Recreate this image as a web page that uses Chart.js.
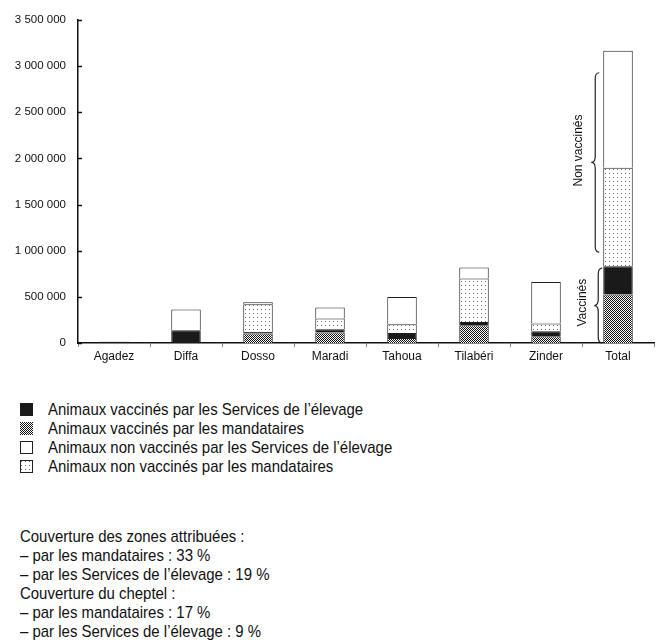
<!DOCTYPE html>
<html>
<head>
<meta charset="utf-8">
<script src="https://cdn.jsdelivr.net/npm/chart.js@4.4.0/dist/chart.umd.min.js"></script>
<style>
  body { margin: 0; background: #fff; color: #111; font-family: "Liberation Sans", Arial, sans-serif; }
  #wrap { position: relative; width: 657px; height: 643px; }
  #chartBox { position: absolute; left: 0; top: 0; width: 657px; height: 372px; }
  .legend { position: absolute; left: 20px; top: 400px; font-size: 17px; line-height: 19px; }
  .legend div { display: flex; align-items: center; height: 19px; white-space: nowrap; }
  .legend canvas { width: 13px; height: 13px; margin-right: 15px; }
  .legend span { display: inline-block; transform: scaleX(0.88); transform-origin: left center; }
  .notes { position: absolute; left: 20px; top: 527px; font-size: 17px; line-height: 19px; white-space: nowrap;
           transform: scaleX(0.88); transform-origin: left top; }
</style>
</head>
<body>
<div id="wrap">
  <div id="chartBox"><canvas id="chart"></canvas></div>
  <div class="legend" id="legend"></div>
  <div class="notes">
    Couverture des zones attribuées :<br>
    – par les mandataires : 33 %<br>
    – par les Services de l’élevage : 19 %<br>
    Couverture du cheptel :<br>
    – par les mandataires : 17 %<br>
    – par les Services de l’élevage : 9 %
  </div>
</div>
<script>
const regions = ["Agadez", "Diffa", "Dosso", "Maradi", "Tahoua", "Tilabéri", "Zinder", "Total"];

// values (number of animals)
const vaccMandataires = [0, 0, 102000, 113000, 54000, 192000, 73000, 525000];
const vaccServices = [10000, 138000, 18000, 36000, 54000, 36000, 54000, 307000];
const nonVaccMandataires = [0, 0, 300000, 116000, 94000, 471000, 84000, 1066000];
const nonVaccServices = [5000, 224000, 22000, 119000, 296000, 119000, 451000, 1269000];

const yTicks = [0, 500000, 1000000, 1500000, 2000000, 2500000, 3000000, 3500000];

const seriesLabels = [
  "Animaux vaccinés par les Services de l’élevage",
  "Animaux vaccinés par les mandataires",
  "Animaux non vaccinés par les Services de l’élevage",
  "Animaux non vaccinés par les mandataires",
];

// fill patterns
function makePattern(kind) {
  const c = document.createElement("canvas");
  const g = c.getContext("2d");
  if (kind === "checker") {
    c.width = 2; c.height = 2;
    g.fillStyle = "#fff"; g.fillRect(0, 0, 2, 2);
    g.fillStyle = "#111"; g.fillRect(0, 0, 1, 1); g.fillRect(1, 1, 1, 1);
  } else if (kind === "dots") {
    c.width = 4; c.height = 4;
    g.fillStyle = "#fff"; g.fillRect(0, 0, 4, 4);
    g.fillStyle = "#666"; g.fillRect(1, 1, 1, 1);
  }
  return g.createPattern(c, "repeat");
}
const checker = makePattern("checker");
const dots = makePattern("dots");

function fmt(v) {
  return String(v).replace(/\B(?=(\d{3})+(?!\d))/g, " ");
}

// small tick marks on the inner side of the y axis
const innerTicks = {
  id: "innerTicks",
  afterDraw(chart) {
    const y = chart.scales.y;
    const ctx = chart.ctx;
    ctx.save();
    ctx.strokeStyle = "#111";
    ctx.lineWidth = 1.5;
    y.ticks.forEach((t) => {
      const py = Math.round(y.getPixelForValue(t.value)) + 0.5;
      ctx.beginPath();
      ctx.moveTo(chart.chartArea.left, py);
      ctx.lineTo(chart.chartArea.left + 4, py);
      ctx.stroke();
    });
    ctx.restore();
  },
};

function brace(ctx, x, y1, y2, yMid) {
  const r = 6;
  ctx.beginPath();
  ctx.moveTo(x + 4, y1);
  ctx.quadraticCurveTo(x, y1, x, y1 + r);
  ctx.lineTo(x, yMid - r);
  ctx.quadraticCurveTo(x, yMid, x - 4, yMid);
  ctx.quadraticCurveTo(x, yMid, x, yMid + r);
  ctx.lineTo(x, y2 - r);
  ctx.quadraticCurveTo(x, y2, x + 4, y2);
  ctx.stroke();
}

// braces and labels next to the Total bar
const braces = {
  id: "braces",
  afterDatasetsDraw(chart) {
    const y = chart.scales.y;
    const ctx = chart.ctx;
    const last = regions.length - 1;
    const bar = chart.getDatasetMeta(0).data[last];
    const left = bar.x - bar.width / 2;
    const vacc = vaccMandataires[last] + vaccServices[last];
    const total = vacc + nonVaccMandataires[last] + nonVaccServices[last];

    ctx.save();
    ctx.strokeStyle = "#222";
    ctx.lineWidth = 1.2;
    ctx.fillStyle = "#111";
    ctx.font = "12px 'Liberation Sans', Arial, sans-serif";
    ctx.textAlign = "center";
    ctx.textBaseline = "middle";

    // vaccinated
    const v1 = y.getPixelForValue(vacc) + 2;
    const v2 = y.getPixelForValue(0);
    const vm = (v1 + v2) / 2;
    brace(ctx, left - 5, v1, v2, vm);
    ctx.save();
    ctx.translate(left - 21, vm - 3);
    ctx.rotate(-Math.PI / 2);
    ctx.fillText("Vaccinés", 0, 0);
    ctx.restore();

    // not vaccinated
    const n1 = y.getPixelForValue(total) + 22;
    const n2 = y.getPixelForValue(vacc) - 14;
    const nm = (n1 + n2) / 2;
    brace(ctx, left - 8, n1, n2, nm);
    ctx.save();
    ctx.translate(left - 25, nm - 12);
    ctx.rotate(-Math.PI / 2);
    ctx.fillText("Non vaccinés", 0, 0);
    ctx.restore();

    ctx.restore();
  },
};

const ctx = document.getElementById("chart").getContext("2d");

const chart = new Chart(ctx, {
  type: "bar",
  data: {
    labels: regions,
    datasets: [
      { label: seriesLabels[1], data: vaccMandataires, backgroundColor: checker },
      { label: seriesLabels[0], data: vaccServices, backgroundColor: "#1a1a1a" },
      { label: seriesLabels[3], data: nonVaccMandataires, backgroundColor: dots },
      { label: seriesLabels[2], data: nonVaccServices, backgroundColor: "#fff" },
    ].map((d) => ({
      ...d,
      borderColor: "#222",
      borderWidth: 1,
      barPercentage: 0.82,
      categoryPercentage: 0.5,
    })),
  },
  options: {
    responsive: true,
    maintainAspectRatio: false,
    animation: false,
    layout: { padding: { top: 20, right: 3, left: 0, bottom: 0 } },
    scales: {
      x: {
        stacked: true,
        grid: { display: true, drawOnChartArea: false, drawTicks: true, tickLength: 4, offset: true, color: "#888" },
        border: { display: true, color: "#111", width: 1.5 },
        ticks: { color: "#111", padding: 2, font: { family: "'Liberation Sans', Arial, sans-serif", size: 12 } },
        afterFit(scale) { scale.height = 29; },
      },
      y: {
        stacked: true,
        min: 0,
        max: 3500000,
        afterBuildTicks(scale) { scale.ticks = yTicks.map((v) => ({ value: v })); },
        grid: { display: false, drawTicks: false },
        border: { display: true, color: "#111", width: 1.5 },
        ticks: {
          color: "#111",
          padding: 12,
          font: { family: "'Liberation Sans', Arial, sans-serif", size: 11.5 },
          callback: (v) => fmt(v),
        },
        afterFit(scale) { scale.width = 78; },
      },
    },
    plugins: {
      legend: { display: false },
      tooltip: { enabled: false },
    },
  },
  plugins: [innerTicks, braces],
});

// legend below the chart, same order as the original
const legendEl = document.getElementById("legend");
const swatches = [
  { fill: "#1a1a1a", border: false },
  { fill: checker, border: false },
  { fill: "#fff", border: true },
  { fill: dots, border: true },
];
seriesLabels.forEach((text, i) => {
  const row = document.createElement("div");
  const sw = document.createElement("canvas");
  sw.width = 13; sw.height = 13;
  const g = sw.getContext("2d");
  g.fillStyle = swatches[i].fill;
  g.fillRect(0, 0, 13, 13);
  if (swatches[i].border) {
    g.strokeStyle = "#222";
    g.lineWidth = 1;
    g.strokeRect(0.5, 0.5, 12, 12);
  }
  const label = document.createElement("span");
  label.textContent = text;
  row.appendChild(sw);
  row.appendChild(label);
  legendEl.appendChild(row);
});
</script>
</body>
</html>
